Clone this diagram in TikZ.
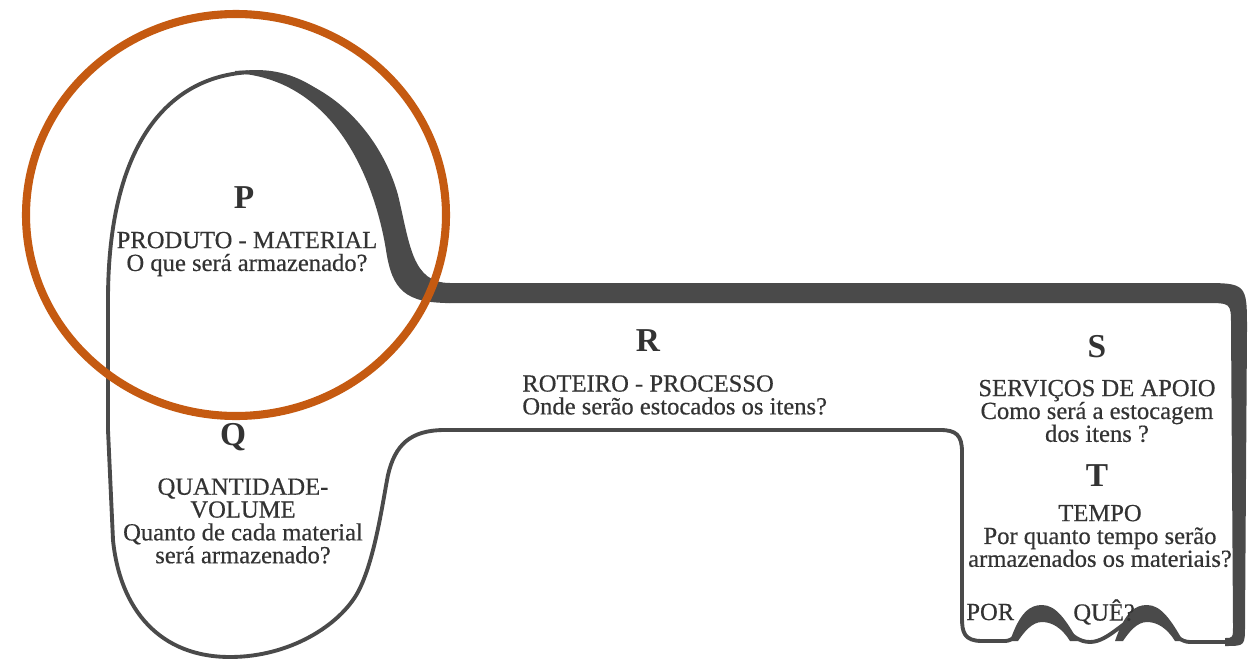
\documentclass[tikz,border=0pt]{standalone}
\usepackage{fontspec}
\setmainfont{Liberation Serif}
\newfontfamily\keyfont[FakeBold=0.5]{Liberation Serif}
\usepackage{xcolor}
\usepackage{tikz}
\definecolor{keygray}{HTML}{4A4A4A}
\definecolor{inkgray}{HTML}{333333}
\definecolor{ringorange}{HTML}{C55A11}

\begin{document}
\begin{tikzpicture}[
    x=0.02cm, y=-0.02cm,
    outline/.style={draw=keygray, line width=2.2pt, line join=round, line cap=round},
    heavy/.style={fill=keygray},
    letter/.style={font=\fontsize{19}{19}\selectfont\bfseries, text=inkgray, inner sep=0pt},
    txt/.style={font=\keyfont\fontsize{14}{13}\selectfont, text=inkgray, align=center, inner sep=0pt},
    ring/.style={draw=ringorange, line width=4.6pt}
]

\useasboundingbox (0,0) rectangle (1248,659);

% Key outline
\draw[outline]
  (108,300) .. controls (108,135) and (175,72) .. (257,72)
  .. controls (340,72) and (385,170) .. (395,235)
  .. controls (402,280) and (415,293) .. (450,293)
  -- (1210,293) .. controls (1239,293) .. (1239,322)
  -- (1239,620) .. controls (1239,642) .. (1218,642)
  -- (1190,642) .. controls (1172,642) and (1165,614) .. (1147,614)
  .. controls (1128,614) and (1110,642) .. (1090,642)
  .. controls (1068,642) and (1060,614) .. (1042,614)
  .. controls (1025,614) and (1020,641) .. (1005,641)
  -- (982,641) .. controls (964,641) and (962,632) .. (962,618)
  -- (962,452) .. controls (962,435) and (956,430) .. (940,430)
  -- (445,430) .. controls (410,430) and (395,445) .. (388,475)
  .. controls (383,500) and (375,560) .. (358,592)
  .. controls (340,625) and (290,657) .. (230,657)
  .. controls (160,657) and (120,610) .. (113,540)
  -- (108,430) -- cycle;

% Heavy parts
\fill[heavy] (235,71) .. controls (320,64) and (380,130) .. (398,195)
  .. controls (410,245) and (412,283) .. (450,283)
  -- (450,303) .. controls (405,303) and (392,290) .. (386,250)
  .. controls (378,200) and (345,80) .. (235,73) -- cycle;
\fill[heavy] (445,283) -- (1200,283) .. controls (1247,283) .. (1247,330)
  -- (1245,625) .. controls (1245,646) .. (1225,646)
  -- (1225,638) .. controls (1233,638) .. (1233,625)
  -- (1231,325) .. controls (1231,303) .. (1205,303)
  -- (445,303) -- cycle;
\foreach \bx in {1042,1147}
  \fill[heavy] ({\bx-32},641) .. controls ({\bx-22},612) and ({\bx-12},605) .. (\bx,605)
    .. controls ({\bx+14},605) and ({\bx+24},620) .. ({\bx+36},641)
    -- ({\bx+28},641) .. controls ({\bx+20},628) and ({\bx+10},622) .. (\bx,622)
    .. controls ({\bx-10},622) and ({\bx-18},632) .. ({\bx-24},641) -- cycle;

% Texts
\node[letter] (ptitle) at (244,198) {P};
\node[txt] (ptext) at (247,254) {PRODUTO - MATERIAL\\O que será armazenado?};

\node[letter] (qtitle) at (233,437) {Q};
\node[txt] (qtext) at (243,521) {QUANTIDADE-\\VOLUME\\Quanto de cada material\\será armazenado?};

\node[letter] (rtitle) at (648,341) {R};
\node[txt, align=left, anchor=west] (rtext) at (522,395) {ROTEIRO - PROCESSO\\Onde serão estocados os itens?};

\node[letter] (stitle) at (1097,347) {S};
\node[txt] (stext) at (1097,411) {SERVIÇOS DE APOIO\\Como será a estocagem\\dos itens ?};

\node[letter] (ttitle) at (1097,476) {T};
\node[txt] (ttext) at (1100,536) {TEMPO\\Por quanto tempo serão\\armazenados os materiais?};

\node[txt, anchor=west] (por) at (966,612) {POR};
\node[txt, anchor=west] (que) at (1073,612) {QUÊ?};

% Highlight
\draw[ring] (236,215) ellipse [x radius=210, y radius=201];

\end{tikzpicture}
\end{document}
